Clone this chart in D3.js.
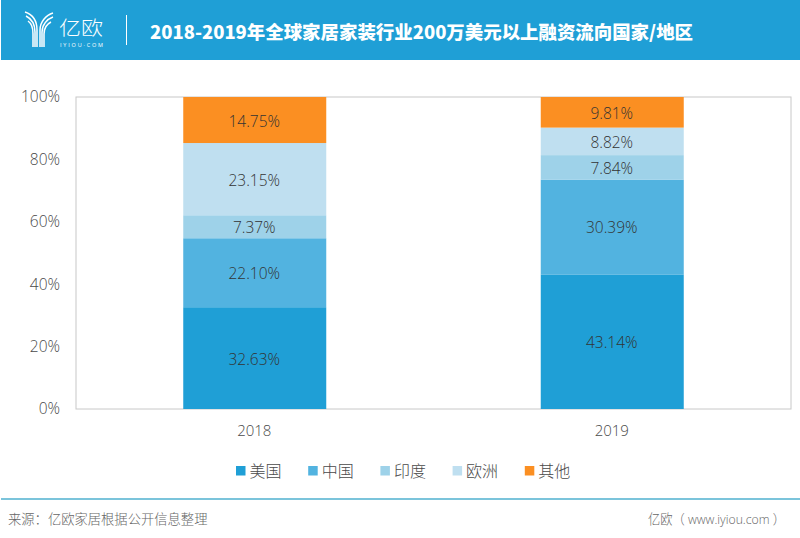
<!DOCTYPE html>
<html>
<head>
<meta charset="utf-8">
<script src="https://cdn.jsdelivr.net/npm/d3@7"></script>
<style>
html, body { margin: 0; padding: 0; background: #fff; }
svg { display: block; }
text { font-family: "Open Sans", "Noto Sans CJK SC", sans-serif; }
.cjk { font-family: "Noto Sans CJK SC", sans-serif; }
</style>
</head>
<body>
<svg id="chart" width="800" height="538"></svg>
<script>
// chart values
var years = ['2018', '2019'];
var regions = ['美国', '中国', '印度', '欧洲', '其他'];
var colors = ['#1f9fd6', '#52b3e0', '#9ed2e9', '#bfdff0', '#fb8f22'];
var values2018 = [32.63, 22.10, 7.37, 23.15, 14.75];
var values2019 = [43.14, 30.39, 7.84, 8.82, 9.81];
var yTicks = [0, 20, 40, 60, 80, 100];

var titleText = '2018-2019年全球家居家装行业200万美元以上融资流向国家/地区';
var sourceText = '来源：亿欧家居根据公开信息整理';
var siteText = '亿欧（ www.iyiou.com ）';

var svg = d3.select('#chart');
var textColor = '#4a4a4a';

// header band
svg.append('rect').attr('x', 1).attr('y', 0).attr('width', 799).attr('height', 60).attr('fill', '#1f9fd6');

// logo mark
var logo = svg.append('g').attr('fill', 'none').attr('stroke', '#fff').attr('stroke-width', 1.5);
['M25 12 C34 15 37 22 37 30 L37 47',
 'M26 16 C32 19 35 25 35 32 L35 47',
 'M28 21 C31 23 33 28 33 34 L33 47',
 'M53 13 C46 15 40 22 40 30 L40 47',
 'M53 17 C47 19 42 25 42 32 L42 47',
 'M51 22 C47 24 44 28 44 34 L44 47'].forEach(function(d) {
  logo.append('path').attr('d', d);
});
svg.append('text').attr('class', 'cjk').attr('x', 59).attr('y', 35).attr('font-size', 19).attr('font-weight', 300)
  .attr('fill', '#fff').attr('textLength', 44).attr('lengthAdjust', 'spacingAndGlyphs').text('亿欧');
svg.append('text').attr('x', 60).attr('y', 46.5).attr('font-size', 5.5).attr('fill', '#fff')
  .attr('textLength', 43).text('IYIOU·COM');
svg.append('line').attr('x1', 126.5).attr('x2', 126.5).attr('y1', 15).attr('y2', 45)
  .attr('stroke', '#fff').attr('stroke-width', 1);

svg.append('text').attr('class', 'cjk').attr('x', 150).attr('y', 38.5)
  .attr('font-size', 18).attr('font-weight', 900).attr('fill', '#fff')
  .attr('textLength', 543).attr('lengthAdjust', 'spacingAndGlyphs').text(titleText);

// scales
var x = d3.scaleBand().domain(years).range([76, 791]).paddingInner(0.6).paddingOuter(0.3);
var y = d3.scaleLinear().domain([0, 100]).range([409, 97]);

// plot frame
svg.append('rect').attr('x', 76).attr('y', 97).attr('width', 715).attr('height', 312)
  .attr('fill', 'none').attr('stroke', '#c8c8c8').attr('stroke-width', 1);

// stacked bars
var rows = years.map(function(year, i) {
  var row = { year: year };
  var vals = i === 0 ? values2018 : values2019;
  regions.forEach(function(r, j) { row[r] = vals[j]; });
  return row;
});
var stack = d3.stack().keys(regions)(rows);

stack.forEach(function(layer, j) {
  var g = svg.append('g');
  g.selectAll('rect').data(layer).enter().append('rect')
    .attr('x', function(d) { return x(d.data.year); })
    .attr('y', function(d) { return y(d[1]); })
    .attr('width', x.bandwidth())
    .attr('height', function(d) { return y(d[0]) - y(d[1]); })
    .attr('fill', colors[j]);
  g.selectAll('text').data(layer).enter().append('text')
    .attr('x', function(d) { return x(d.data.year) + x.bandwidth() / 2 - 0.5; })
    .attr('y', function(d) { return y((d[0] + d[1]) / 2) + 6.5; })
    .attr('text-anchor', 'middle')
    .attr('font-size', 15.5).attr('font-weight', 300).attr('fill', '#333')
    .text(function(d) { return (d[1] - d[0]).toFixed(2) + '%'; });
});

// axes
var yAxis = d3.axisLeft(y).tickValues(yTicks).tickSize(0).tickPadding(16).tickFormat(function(d) { return d + '%'; });
var yG = svg.append('g').attr('transform', 'translate(76,0)').call(yAxis);
yG.select('.domain').remove();
yG.selectAll('text').attr('font-size', 15.5).attr('font-weight', 300).attr('fill', textColor)
  .style('font-family', '"Open Sans", sans-serif');

var xAxis = d3.axisBottom(x).tickSize(0).tickPadding(16);
var xG = svg.append('g').attr('transform', 'translate(-0.5,409)').call(xAxis);
xG.select('.domain').remove();
xG.selectAll('text').attr('font-size', 15).attr('font-weight', 300).attr('fill', textColor)
  .style('font-family', '"Open Sans", sans-serif');

// legend
var legend = svg.append('g');
regions.forEach(function(r, i) {
  var lx = 236 + i * 72.2;
  legend.append('rect').attr('x', lx).attr('y', 466).attr('width', 9.5).attr('height', 9.5).attr('fill', colors[i]);
  legend.append('text').attr('class', 'cjk').attr('x', lx + 13.5).attr('y', 476.5)
    .attr('font-size', 16).attr('font-weight', 300).attr('fill', textColor).text(r);
});

// footer
svg.append('line').attr('x1', 1).attr('x2', 800).attr('y1', 499).attr('y2', 499)
  .attr('stroke', '#4fb0cf').attr('stroke-width', 1.6);
svg.append('text').attr('class', 'cjk').attr('x', 8).attr('y', 524)
  .attr('font-size', 13.3).attr('font-weight', 300).attr('fill', '#666').text(sourceText);
svg.append('text').attr('x', 648).attr('y', 524)
  .attr('font-size', 13.3).attr('font-weight', 300).attr('fill', '#666')
  .attr('textLength', 137).attr('lengthAdjust', 'spacingAndGlyphs').text(siteText);
</script>
</body>
</html>
